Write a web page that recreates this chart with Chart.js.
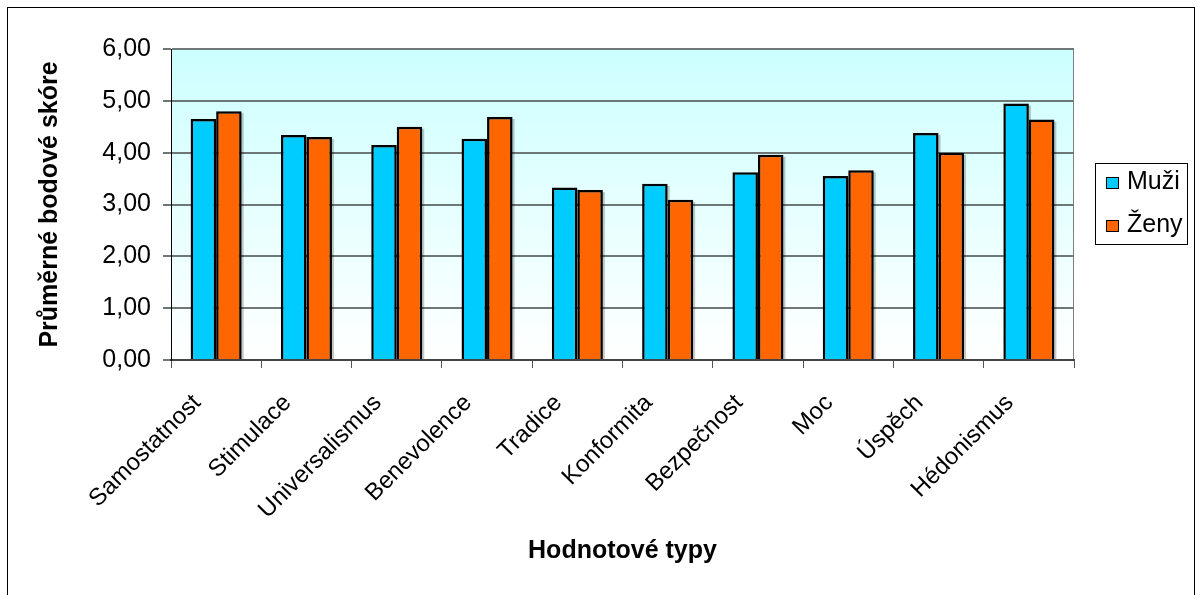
<!DOCTYPE html>
<html>
<head>
<meta charset="utf-8">
<script src="https://cdn.jsdelivr.net/npm/chart.js@4"></script>
<style>
  html, body { margin: 0; padding: 0; background: #fff; }
  canvas { display: block; }
</style>
</head>
<body>
<canvas id="chart" width="1198" height="595"></canvas>
<script>
// values
const categories = ['Samostatnost', 'Stimulace', 'Universalismus', 'Benevolence', 'Tradice',
  'Konformita', 'Bezpečnost', 'Moc', 'Úspěch', 'Hédonismus'];
const muzi = [4.65, 4.34, 4.15, 4.27, 3.33, 3.40, 3.62, 3.55, 4.38, 4.95];
const zeny = [4.80, 4.30, 4.50, 4.69, 3.28, 3.09, 3.96, 3.66, 4.00, 4.64];
const yTicks = [0, 1, 2, 3, 4, 5, 6];

const FONT = "'Liberation Sans', Arial, sans-serif";

// page background, outer frame, plot gradient
const frame = {
  id: 'frame',
  beforeDraw(chart) {
    const { ctx, chartArea: a } = chart;
    ctx.save();
    ctx.fillStyle = '#fff';
    ctx.fillRect(0, 0, chart.width, chart.height);
    ctx.strokeStyle = '#000';
    ctx.lineWidth = 1;
    ctx.strokeRect(7.5, 7.5, 1187, 700);
    const g = ctx.createLinearGradient(0, a.top, 0, a.bottom);
    g.addColorStop(0, '#ccffff');
    g.addColorStop(1, '#ffffff');
    ctx.fillStyle = g;
    ctx.fillRect(a.left, a.top, a.right - a.left, a.bottom - a.top);
    ctx.strokeStyle = '#808080';
    ctx.beginPath();
    ctx.moveTo(a.right - 0.5, a.top);
    ctx.lineTo(a.right - 0.5, a.bottom);
    ctx.stroke();
    ctx.restore();
  },
  // soft shadow behind each bar
  beforeDatasetsDraw(chart) {
    const ctx = chart.ctx;
    ctx.save();
    ctx.fillStyle = 'rgba(0,0,0,0.22)';
    chart.data.datasets.forEach((ds, i) => {
      chart.getDatasetMeta(i).data.forEach(bar => {
        const w = bar.width;
        ctx.fillRect(bar.x - w / 2 + 2, bar.y + 2, w, bar.base - bar.y - 2);
      });
    });
    ctx.restore();
  },
  afterDraw(chart) {
    // legend box on the right
    const ctx = chart.ctx;
    ctx.save();
    ctx.fillStyle = '#fff';
    ctx.fillRect(1095, 163, 92, 81);
    ctx.strokeStyle = '#000';
    ctx.lineWidth = 1;
    ctx.strokeRect(1095.5, 163.5, 92, 81);
    ctx.font = '25px ' + FONT;
    ctx.textBaseline = 'alphabetic';
    chart.data.datasets.forEach((ds, i) => {
      const y = 189 + i * 43;
      ctx.fillStyle = ds.backgroundColor;
      ctx.fillRect(1106, y - 12, 12, 11);
      ctx.strokeStyle = '#000';
      ctx.strokeRect(1106.5, y - 11.5, 12, 11);
      ctx.fillStyle = '#000';
      ctx.fillText(ds.label, 1127, y);
    });
    ctx.restore();
  }
};

new Chart(document.getElementById('chart'), {
  type: 'bar',
  data: {
    labels: categories,
    datasets: [
      { label: 'Muži', data: muzi, backgroundColor: '#00ccff', borderColor: '#000', borderWidth: 2.5,
        barPercentage: 1, categoryPercentage: 0.565 },
      { label: 'Ženy', data: zeny, backgroundColor: '#ff6600', borderColor: '#000', borderWidth: 2.5,
        barPercentage: 1, categoryPercentage: 0.565 }
    ]
  },
  options: {
    responsive: false,
    animation: false,
    devicePixelRatio: 1,
    layout: { padding: { top: 49, right: 124, left: 0, bottom: 0 } },
    plugins: { legend: { display: false }, tooltip: { enabled: false } },
    scales: {
      x: {
        grid: { offset: true, drawOnChartArea: false, tickLength: 8, color: '#555', lineWidth: 1 },
        border: { color: '#444', width: 2 },
        ticks: { color: '#000', font: { family: FONT, size: 24 }, minRotation: 45, maxRotation: 45,
          autoSkip: false, padding: 21, labelOffset: -19 },
        title: { display: true, text: 'Hodnotové typy', color: '#000',
          font: { family: FONT, size: 25, weight: 'bold' }, padding: { top: 0, bottom: 29 } },
        afterFit(scale) { scale.height = 235; }
      },
      y: {
        min: 0, max: 6,
        afterBuildTicks(scale) { scale.ticks = yTicks.map(v => ({ value: v })); },
        grid: { color: '#6e7777', lineWidth: 2, tickLength: 8 },
        border: { color: '#000', width: 1 },
        ticks: { color: '#000', font: { family: FONT, size: 25 }, padding: 12,
          callback: v => v.toFixed(2).replace('.', ',') },
        title: { display: true, text: 'Průměrné bodové skóre', color: '#000',
          font: { family: FONT, size: 25, weight: 'bold' }, padding: { top: 35, bottom: 0 } },
        afterFit(scale) { scale.width = 171; }
      }
    }
  },
  plugins: [frame]
});
</script>
</body>
</html>
